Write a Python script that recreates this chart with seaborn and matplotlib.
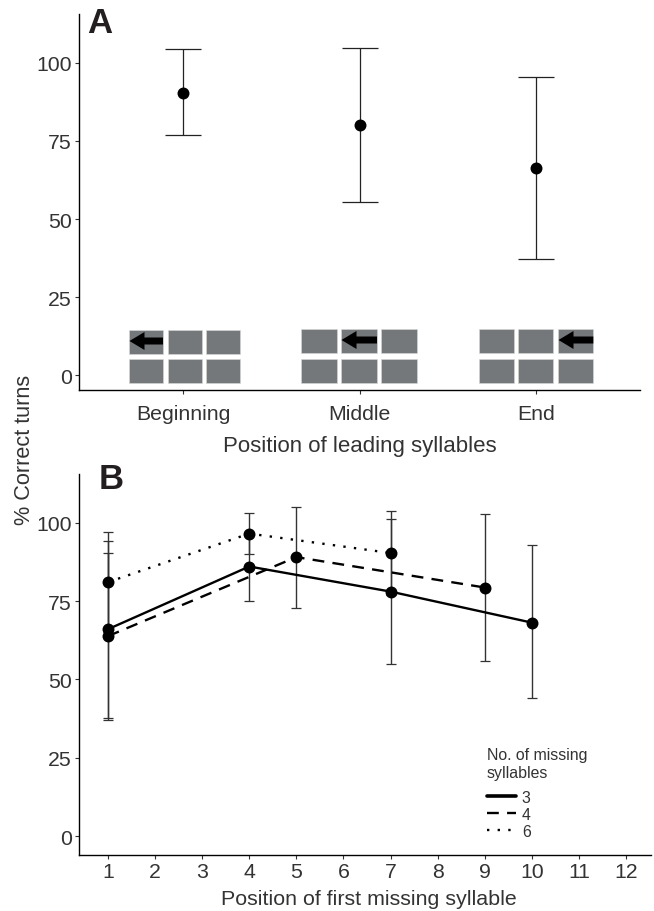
import numpy as np
import pandas as pd
import matplotlib
matplotlib.use('Agg')
import matplotlib.pyplot as plt
import seaborn as sns
from matplotlib.patches import Rectangle, Polygon

W, H = 654, 912

# panel A
positions = ['Beginning', 'Middle', 'End']
a_mean = [90.5, 80.2, 66.3]
a_low = [76.8, 55.5, 37.1]
a_high = [104.4, 104.8, 95.5]

# panel B
b3_x = [1, 4, 7, 10]
b3_mean = [66.0, 86.0, 78.0, 68.1]
b3_low = [37.8, 75.0, 55.0, 44.0]
b3_high = [94.0, 97.0, 101.2, 92.7]
b4_x = [1, 5, 9]
b4_mean = [63.8, 89.0, 79.3]
b4_low = [37.0, 72.9, 55.8]
b4_high = [90.2, 104.9, 102.9]
b6_x = [1, 4, 7]
b6_mean = [81.0, 96.5, 90.3]
b6_low = [65.0, 90.0, 76.8]
b6_high = [96.9, 103.1, 103.8]
b_ticks = list(range(1, 13))
y_ticks = [0, 25, 50, 75, 100]

sns.set_theme(style='ticks')
plt.rcParams['font.family'] = ['Liberation Sans', 'DejaVu Sans']

fig = plt.figure(figsize=(W / 100, H / 100), dpi=100)


def px_axes(left, top, right, bottom):
    return fig.add_axes([left / W, 1 - bottom / H, (right - left) / W, (bottom - top) / H])


def style_axes(ax):
    sns.despine(ax=ax)
    for s in ['left', 'bottom']:
        ax.spines[s].set_linewidth(1.0)
        ax.spines[s].set_color('black')
    ax.tick_params(axis='both', labelsize=15.3, labelcolor='#333333', length=3,
                   width=0.8, color='#333333', pad=2)
    ax.set_yticks(y_ticks)


# panel A
ax1 = px_axes(79, 15, 640, 391)
df_a = pd.DataFrame({'pos': positions, 'mean': a_mean})
sns.scatterplot(data=df_a, x='pos', y='mean', color='black', s=74, linewidth=0, zorder=3, ax=ax1, legend=False)
ax1.errorbar(positions, a_mean,
             yerr=[np.array(a_mean) - np.array(a_low), np.array(a_high) - np.array(a_mean)],
             fmt='none', ecolor='#222222', elinewidth=0.9, capsize=13, capthick=0.9, zorder=2)
ax1.set_xlim(-0.589, 2.589)
ax1.set_ylim(-4.8, 115.7)
style_axes(ax1)
ax1.tick_params(axis='x', pad=7)
ax1.set_xlabel('Position of leading syllables', fontsize=16, color='#333333', labelpad=9)
ax1.set_ylabel('')

# panel B
ax2 = px_axes(79, 475, 651, 856)
df_b = pd.concat([
    pd.DataFrame({'first': b3_x, 'correct': b3_mean, 'missing': '3'}),
    pd.DataFrame({'first': b4_x, 'correct': b4_mean, 'missing': '4'}),
    pd.DataFrame({'first': b6_x, 'correct': b6_mean, 'missing': '6'}),
])
sns.lineplot(data=df_b, x='first', y='correct', style='missing', color='black', linewidth=1.7,
             dashes={'3': '', '4': (5, 3.5), '6': (1, 3.5)}, errorbar=None, sort=False,
             zorder=2, ax=ax2)
sns.scatterplot(data=df_b, x='first', y='correct', color='black', s=74, linewidth=0, zorder=3, ax=ax2, legend=False)
for xs, m, lo, hi in [(b3_x, b3_mean, b3_low, b3_high),
                      (b4_x, b4_mean, b4_low, b4_high),
                      (b6_x, b6_mean, b6_low, b6_high)]:
    ax2.errorbar(xs, m, yerr=[np.array(m) - np.array(lo), np.array(hi) - np.array(m)],
                 fmt='none', ecolor='#333333', elinewidth=1.0, capsize=3.4, capthick=0.9, zorder=1)
ax2.set_xlim(0.385, 12.53)
ax2.set_ylim(-6, 115.5)
style_axes(ax2)
ax2.set_xticks(b_ticks)
ax2.set_xlabel('Position of first missing syllable', fontsize=15.4, color='#333333', labelpad=6, x=0.506)
ax2.set_ylabel('')

handles, labels = ax2.get_legend_handles_labels()
leg = ax2.legend(handles, labels, title='No. of missing\nsyllables', frameon=False, fontsize=11.4,
                 title_fontsize=11.4, loc='upper left', bbox_to_anchor=(408 / 572, 108 / 381),
                 borderaxespad=0, borderpad=0, handlelength=1.8, handletextpad=0.4,
                 labelspacing=0.12, alignment='left', labelcolor='#333333')
leg.get_title().set_color('#333333')
leg.get_title().set_linespacing(1.25)
leg.legend_handles[0].set_linewidth(2.6)
leg._legend_box.sep = 7

fig.text(25 / W, 1 - 450 / H, '% Correct turns', rotation=90, fontsize=15.6, color='#333333',
         ha='center', va='center')
fig.text(87 / W, 1 - 33 / H, 'A', fontsize=25, fontweight='bold', color='#231f20')
fig.text(99 / W, 1 - 489 / H, 'B', fontsize=25, fontweight='bold', color='#231f20')

# little syllable grids under panel A
cell_col = '#75787a'
grids = [([129, 167.7, 206.3], 34.0, 331, 360, 0),
         ([301, 341, 381], 36.0, 330, 360, 1),
         ([479, 518, 558], 35.3, 330, 360, 2)]
for xs, w, y1, y2, active in grids:
    for y in (y1, y2):
        for x in xs:
            fig.add_artist(Rectangle((x / W, 1 - (y + 24) / H), w / W, 24 / H, transform=fig.transFigure,
                                     facecolor=cell_col, edgecolor='#d8d8d8', linewidth=0.4))
    tip = xs[active] + 0.5
    tail = xs[active] + w
    yc = y1 + 11
    pts = [(tip, yc), (tip + 15, yc - 9), (tip + 15, yc - 3.5), (tail, yc - 3.5),
           (tail, yc + 3.5), (tip + 15, yc + 3.5), (tip + 15, yc + 9)]
    fig.add_artist(Polygon([(px / W, 1 - py / H) for px, py in pts], closed=True,
                           transform=fig.transFigure, facecolor='black', edgecolor='none', zorder=5))

plt.savefig('out.png', dpi=100)
